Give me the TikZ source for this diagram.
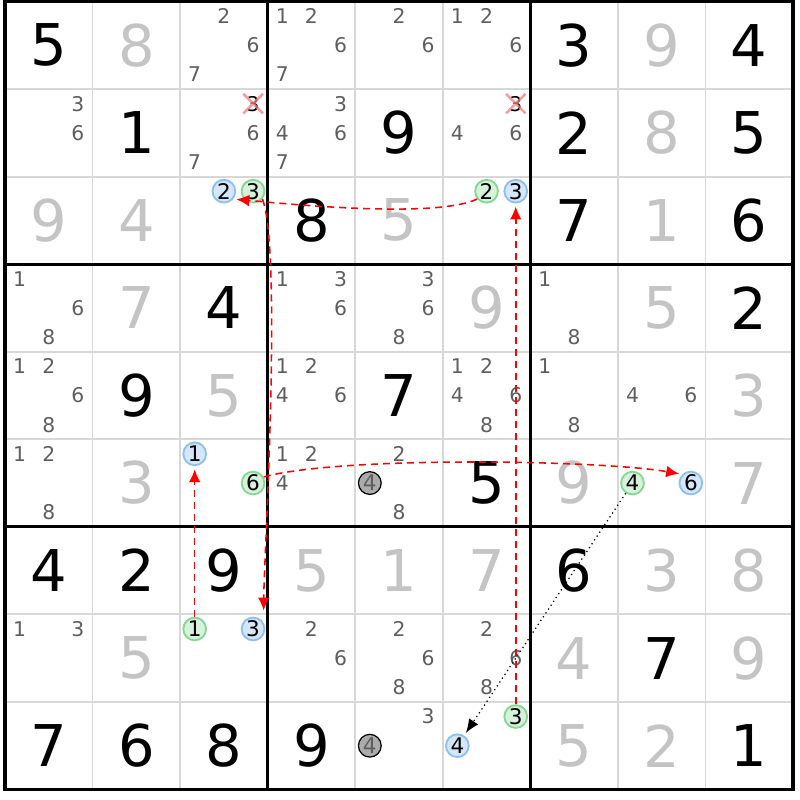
\documentclass[tikz,border=0pt]{standalone}
\usepackage{fontspec}
\setmainfont{DejaVu Sans}
\usetikzlibrary{arrows.meta}
\definecolor{candgray}{HTML}{5E5E5E}
\definecolor{solvgray}{HTML}{C4C4C4}
\definecolor{gridgray}{HTML}{D8D8D8}
\definecolor{bluefill}{HTML}{D4E6F8}
\definecolor{blueline}{HTML}{8CC0F2}
\definecolor{greenfill}{HTML}{D6F2DA}
\definecolor{greenline}{HTML}{84D892}
\definecolor{crossred}{HTML}{F07E7E}

\begin{document}
\begin{tikzpicture}[
given/.style={font=\fontsize{18.7}{20}\selectfont,text=black,inner sep=0pt},
solved/.style={given,text=solvgray},
cand/.style={font=\fontsize{6.6}{7}\selectfont,text=candgray,inner sep=0pt},
circ/.style={circle,draw,line width=0.6pt,minimum size=0.26cm,inner sep=0pt,
    font=\fontsize{7}{8}\selectfont,text=black},
bluec/.style={circ,fill=bluefill,draw=blueline},
greenc/.style={circ,fill=greenfill,draw=greenline},
grayc/.style={circ,fill=black!33,draw=black,line width=0.4pt,text=candgray},
link/.style={draw=red,line width=0.5pt,dash pattern=on 2.3pt off 1.6pt,
    shorten >=1pt,-{Latex[length=4.2pt,width=3.8pt]}},
weaklink/.style={draw=black,line width=0.4pt,dash pattern=on 0.4pt off 1.1pt,
    shorten >=1pt,-{Latex[length=4.5pt,width=3.6pt]}}]
\useasboundingbox (-0.057,-0.12) rectangle (9.08,9.017);
\foreach \i in {1,...,8} {
  \draw[gridgray,line width=0.6pt] (\i,0) -- (\i,9);
  \draw[gridgray,line width=0.6pt] (0,\i) -- (9,\i);
}
\foreach \i in {3,6} {
  \draw[line width=1pt] (\i,0) -- (\i,9);
  \draw[line width=1pt] (0,\i) -- (9,\i);
}
\draw[line width=1.1pt] (0,0) rectangle (9,9);

\foreach \row/\col/\dig in {1/1/5,1/7/3,1/9/4,2/2/1,2/5/9,2/7/2,2/9/5,3/4/8,3/7/7,3/9/6,
    4/3/4,4/9/2,5/2/9,5/5/7,6/6/5,7/1/4,7/2/2,7/3/9,7/7/6,8/8/7,
    9/1/7,9/2/6,9/3/8,9/4/9,9/9/1}
  \node[given] (g\row\col) at (\col-0.5,9.5-\row) {\dig};
\foreach \row/\col/\dig in {1/2/8,1/8/9,2/8/8,3/1/9,3/2/4,3/5/5,3/8/1,4/2/7,4/6/9,4/8/5,
    5/3/5,5/9/3,6/2/3,6/7/9,6/9/7,7/4/5,7/5/1,7/6/7,7/8/3,7/9/8,
    8/2/5,8/7/4,8/9/9,9/7/5,9/8/2}
  \node[solved] (g\row\col) at (\col-0.5,9.5-\row) {\dig};

\foreach \row/\col/\digs in {1/3/{2,6,7},1/4/{1,2,6,7},1/5/{2,6},1/6/{1,2,6},
    2/1/{3,6},2/3/{6,7},2/4/{3,4,6,7},2/6/{4,6},
    4/1/{1,6,8},4/4/{1,3,6},4/5/{3,6,8},4/7/{1,8},
    5/1/{1,2,6,8},5/4/{1,2,4,6},5/6/{1,2,4,6,8},5/7/{1,8},5/8/{4,6},
    6/1/{1,2,8},6/4/{1,2,4},6/5/{2,8},
    8/1/{1,3},8/4/{2,6},8/5/{2,6,8},8/6/{2,6,8},9/5/{3}}
  \foreach \dig in \digs
    \node[cand] (n\row\col\dig) at ({\col-1+(2*mod(\dig-1,3)+1)/6},{10-\row-(2*div(\dig-1,3)+1)/6}) {\dig};

\foreach \col in {3,6} {
  \node[cand,text=black,minimum size=0.21cm] (n2\col3) at (\col-1/6,8-1/6) {3};
  \draw[crossred,opacity=0.75,line width=0.85pt]
    (n2\col3.south west) -- (n2\col3.north east)
    (n2\col3.north west) -- (n2\col3.south east);
}

\foreach \row/\col/\dig/\kind in {3/3/2/bluec,3/3/3/greenc,3/6/2/greenc,3/6/3/bluec,
    6/3/1/bluec,6/3/6/greenc,6/8/4/greenc,6/8/6/bluec,8/3/1/greenc,8/3/3/bluec,
    9/6/3/greenc,9/6/4/bluec,6/5/4/grayc,9/5/4/grayc}
  \node[\kind] (n\row\col\dig) at ({\col-1+(2*mod(\dig-1,3)+1)/6},{10-\row-(2*div(\dig-1,3)+1)/6}) {\dig};

\draw[link] (n362.220) to[out=205,in=-5,looseness=0.5] (n332.-40);
\draw[link,shorten >=4pt] (n333.-40) to[out=-70,in=90,looseness=0.35] (n833.30);
\draw[link] (n831) -- (n631);
\draw[link] (n636.30) to[out=15,in=170,looseness=0.5] (n686.135);
\draw[link] (n963) -- (n363);
\draw[weaklink] (n684) -- (n964);
\end{tikzpicture}
\end{document}
